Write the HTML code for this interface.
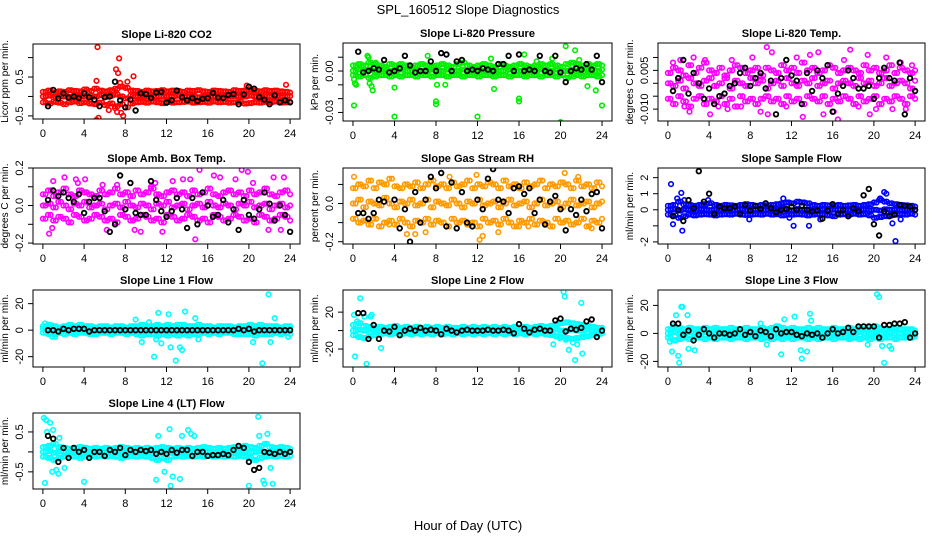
<!DOCTYPE html>
<html><head><meta charset="utf-8"><style>
html,body{margin:0;padding:0;background:#fff;}
svg{display:block;font-family:"Liberation Sans",Arial,sans-serif;}
</style></head><body>
<svg id="chart" width="936" height="540" viewBox="0 0 936 540" xmlns="http://www.w3.org/2000/svg">
<rect width="936" height="540" fill="#fff"/>
<text x="468" y="14" text-anchor="middle" font-size="13">SPL_160512  Slope Diagnostics</text>
<text x="468" y="530" text-anchor="middle" font-size="13">Hour of Day (UTC)</text>
<g id="panels"></g>
</svg>
<script>
const bandTimes=[0,0.5,1,1.5,2,2.5,3,3.5,4,4.5,5,5.5,6,6.5,7,7.5,8,8.5,9,9.5,10,10.5,11,11.5,12,12.5,13,13.5,14,14.5,15,15.5,16,16.5,17,17.5,18,18.5,19,19.5,20,20.5,21,21.5,22,22.5,23,23.5,24];
const blackTimes=[0.5,1,1.5,2,2.5,3,3.5,4,4.5,5,5.5,6,6.5,7,7.5,8,8.5,9,9.5,10,10.5,11,11.5,12,12.5,13,13.5,14,14.5,15,15.5,16,16.5,17,17.5,18,18.5,19,19.5,20,20.5,21,21.5,22,22.5,23,23.5,24];
const xTicks=[0,4,8,12,16,20,24];

// Panel 1: CO2
const co2Hi=[0.12,0.15,0.1,0.13,0.12,0.16,0.14,0.13,0.18,0.14,0.2,0.15,0.13,0.16,0.2,0.25,0.22,0.15,0.14,0.12,0.15,0.13,0.14,0.16,0.13,0.15,0.14,0.12,0.15,0.14,0.16,0.13,0.12,0.15,0.14,0.13,0.12,0.16,0.14,0.15,0.17,0.15,0.13,0.16,0.14,0.15,0.13,0.12,0.1];
const co2Mid=[0,0.02,-0.02,0.01,0,-0.01,0.02,0,0.01,-0.02,0,0.03,-0.01,0.02,0.05,0,-0.05,0.02,0,0.01,-0.01,0.02,0,-0.01,0.01,0,0.02,-0.01,0,0.01,-0.02,0,0.01,0,-0.01,0.02,0,0.01,-0.01,0,0.02,0,-0.01,0.01,0,0.02,-0.01,0,0.01];
const co2Lo=[-0.15,-0.18,-0.14,-0.16,-0.2,-0.15,-0.13,-0.17,-0.15,-0.18,-0.2,-0.16,-0.22,-0.18,-0.25,-0.2,-0.28,-0.18,-0.15,-0.14,-0.16,-0.13,-0.15,-0.17,-0.14,-0.16,-0.15,-0.14,-0.13,-0.16,-0.15,-0.14,-0.16,-0.13,-0.15,-0.14,-0.16,-0.15,-0.14,-0.18,-0.17,-0.15,-0.16,-0.14,-0.15,-0.13,-0.16,-0.15,-0.14];
const co2OutT=[5.3,5.2,5.4,7.4,7.1,7.3,7.5,7.8,7.6,8.8,6.4,5.2,7.0,23.6,19.8,8.2,7.2];
const co2OutV=[1.27,-0.6,-0.55,0.98,0.7,0.6,0.35,-0.5,-0.42,0.52,-0.35,0.4,-0.3,0.3,0.28,0.38,-0.4];
const co2Black=[-0.25,0.17,-0.05,0.08,-0.03,0,-0.04,0.08,-0.02,-0.08,-0.25,-0.02,0,0.38,-0.1,-0.28,-0.08,-0.36,0.08,0.06,-0.04,0.1,0.12,-0.16,-0.1,0.15,-0.02,-0.1,-0.04,-0.12,-0.06,-0.04,0.09,-0.03,-0.04,0.04,0.06,-0.2,0.05,0.25,0.2,-0.02,-0.08,-0.2,0.03,-0.15,-0.1,-0.15];

// Panel 2: Pressure
const prHi=[0.004,0.005,0.004,0.006,0.005,0.004,0.003,0.005,0.004,0.005,0.004,0.003,0.004,0.005,0.004,0.003,0.004,0.005,0.004,0.003,0.005,0.006,0.004,0.003,0.004,0.005,0.004,0.003,0.005,0.004,0.003,0.004,0.005,0.004,0.003,0.004,0.005,0.004,0.005,0.004,0.003,0.005,0.006,0.005,0.004,0.005,0.004,0.005,0.004];
const prMid=[0,0.001,0,0.001,0,0,0.001,0,0,0.001,0,0,0.001,0,0,0.001,0,0,0.001,0,0,0.001,0,0,0.001,0,0,0.001,0,0,0.001,0,0,0.001,0,0,0.001,0,0,0.001,0,0,0.001,0,0,0.001,0,0,0.001];
const prLo=[-0.003,-0.004,-0.003,-0.005,-0.004,-0.003,-0.003,-0.004,-0.003,-0.004,-0.003,-0.003,-0.004,-0.003,-0.003,-0.004,-0.003,-0.003,-0.004,-0.003,-0.003,-0.004,-0.003,-0.003,-0.004,-0.003,-0.003,-0.004,-0.003,-0.003,-0.004,-0.003,-0.003,-0.004,-0.003,-0.003,-0.004,-0.003,-0.003,-0.004,-0.003,-0.005,-0.004,-0.003,-0.004,-0.003,-0.003,-0.004,-0.003];
const prOutT=[0.1,0.2,0.3,0.1,1.5,1.6,1.8,1.9,4,4,7.2,8,8,8.1,8.9,12,13.6,16,16,16.5,20,20.5,21.4,21.8,22.6,23.4,24,19.2,17.7,13.3,1.4,2.2,10.5];
const prOutV=[-0.006,-0.009,-0.01,-0.025,0.01,-0.009,-0.011,-0.014,-0.012,-0.033,0.011,-0.022,-0.024,-0.01,-0.01,-0.033,-0.013,-0.02,-0.022,0.012,-0.037,0.018,0.015,0.008,-0.011,-0.014,-0.025,0.009,0.007,0.009,0.011,0.006,0.008];
const prBlack=[0.014,-0.001,0,0.002,0.001,0.008,-0.001,0,0.002,0.011,0.004,-0.001,0,0,0.007,0,0.013,0.012,0,0.007,0.008,0,0.001,0,0.002,0.001,0,0.005,0.005,0.011,0,0.012,0,0.001,0,0.011,0,-0.001,0.011,-0.001,-0.008,0,0.002,0.001,0.005,0.001,0.011,-0.008];

// Panel 3: Li-820 Temp
const tpHi=[0.004,0.006,0.005,0.003,0.007,0.004,0.006,0.008,0.005,0.004,0.006,0.003,0.005,0.007,0.006,0.004,0.005,0.006,0.003,0.006,0.005,0.004,0.007,0.005,0.006,0.004,0.008,0.005,0.006,0.004,0.005,0.007,0.006,0.004,0.005,0.006,0.005,0.004,0.007,0.005,0.006,0.004,0.005,0.007,0.004,0.006,0.005,0.004,0.005];
const tpMid=[0,-0.001,0.001,-0.002,0.002,0,-0.001,0.001,0.002,-0.001,0,0.002,-0.002,0.001,0,-0.001,0.002,0,0.001,-0.002,0,0.001,-0.001,0.002,0,-0.001,0.001,0,0.002,-0.001,0,0.001,-0.002,0,0.001,0,-0.001,0.002,0,0.001,-0.001,0,0.002,-0.001,0,0.001,0,-0.002,0.001];
const tpLo=[-0.006,-0.008,-0.005,-0.007,-0.009,-0.006,-0.005,-0.008,-0.006,-0.007,-0.005,-0.008,-0.006,-0.009,-0.005,-0.007,-0.006,-0.008,-0.006,-0.005,-0.007,-0.006,-0.008,-0.005,-0.007,-0.006,-0.008,-0.005,-0.006,-0.007,-0.005,-0.008,-0.006,-0.007,-0.005,-0.006,-0.008,-0.005,-0.007,-0.006,-0.005,-0.008,-0.006,-0.007,-0.005,-0.006,-0.008,-0.005,-0.006];
const tpOutT=[0.5,1.2,2.1,2.5,3.6,4.1,4.9,5.8,7.1,8.2,9.6,9.7,10.1,11.5,12.5,13.1,13.8,14.6,15.1,16.1,16.5,17.1,17.7,18.5,19.4,19.6,20.2,21.2,21.8,22.6,23.1,23.7,1.6,6.2,9.0];
const tpOutV=[0.008,0.009,-0.011,0.01,0.009,-0.012,-0.009,-0.01,-0.009,0.01,0.014,-0.012,0.012,-0.009,0.01,-0.013,0.011,0.012,-0.012,-0.011,-0.014,0.009,0.013,-0.009,0.011,-0.012,-0.01,0.01,-0.01,0.008,-0.01,0.007,-0.009,0.009,-0.011];
const tpBlack=[-0.003,0.002,0.009,-0.004,0.004,0,-0.006,-0.002,-0.008,-0.005,-0.004,-0.001,0,0.004,0.006,-0.001,0.002,0.004,-0.002,0.001,-0.012,0.002,0.009,0.003,0.001,-0.008,0.004,-0.003,0.005,0.002,0.007,-0.011,-0.004,-0.001,0.005,0.002,-0.002,-0.002,-0.001,-0.006,0.002,0.006,0.002,0.001,0.008,-0.012,0.002,-0.003];

// Panel 4: Amb. Box Temp
const abHi=[0.06,0.08,0.05,0.07,0.09,0.06,0.05,0.08,0.07,0.06,0.05,0.08,0.06,0.07,0.09,0.06,0.07,0.05,0.08,0.06,0.07,0.09,0.06,0.05,0.07,0.08,0.06,0.07,0.05,0.08,0.06,0.07,0.09,0.06,0.05,0.07,0.08,0.06,0.07,0.05,0.08,0.06,0.07,0.09,0.06,0.05,0.07,0.08,0.06];
const abMid=[0,0.01,-0.01,0.02,0,-0.02,0.01,0,0.02,-0.01,0,0.01,-0.02,0,0.01,-0.01,0.02,0,-0.01,0.01,0,-0.02,0.01,0,0.02,-0.01,0,0.01,-0.02,0,0.01,-0.01,0.02,0,-0.01,0.01,0,-0.02,0.01,0,0.02,-0.01,0,0.01,-0.02,0,0.01,-0.01,0];
const abLo=[-0.07,-0.05,-0.08,-0.06,-0.07,-0.09,-0.05,-0.06,-0.08,-0.07,-0.05,-0.06,-0.08,-0.07,-0.09,-0.05,-0.06,-0.08,-0.07,-0.05,-0.06,-0.08,-0.07,-0.09,-0.05,-0.06,-0.08,-0.07,-0.05,-0.06,-0.08,-0.07,-0.09,-0.05,-0.06,-0.08,-0.07,-0.05,-0.06,-0.08,-0.07,-0.09,-0.05,-0.06,-0.08,-0.07,-0.05,-0.06,-0.08];
const abOutT=[0.6,1.0,2.1,3.2,3.4,4.1,5.8,7.2,8.9,9.5,10.5,11.6,12.6,13.6,14.8,15.2,16.6,17.2,18.7,19.3,19.9,20.4,21.9,22.4,23.1,23.4,0.9,6.2,10.9,14.3];
const abOutV=[-0.15,0.13,0.15,0.14,0.12,0.14,0.11,0.11,-0.13,-0.14,0.1,-0.14,0.13,0.14,-0.18,0.19,0.16,0.15,0.14,0.19,0.18,0.12,-0.13,0.15,-0.13,0.15,-0.12,-0.13,0.12,0.14];
const abBlack=[0.03,0.08,0.05,0.07,0.04,0.02,0.06,-0.04,0.02,0.04,0.04,-0.03,-0.14,-0.1,0.16,-0.02,0.12,-0.04,-0.05,-0.05,0.13,0.03,-0.03,-0.06,-0.03,0.04,-0.02,-0.12,0.04,-0.1,0.07,0,-0.06,-0.05,0.03,-0.09,-0.02,-0.13,0.03,-0.05,-0.07,-0.02,0.07,0.01,-0.08,0,-0.05,-0.14];

// Panel 5: Gas Stream RH
const rhHi=[0.08,0.1,0.09,0.12,0.08,0.11,0.1,0.13,0.09,0.08,0.1,0.09,0.11,0.08,0.1,0.12,0.09,0.1,0.08,0.11,0.09,0.1,0.12,0.08,0.1,0.09,0.11,0.1,0.08,0.12,0.09,0.1,0.08,0.11,0.09,0.1,0.12,0.08,0.1,0.09,0.11,0.1,0.08,0.12,0.09,0.1,0.08,0.11,0.09];
const rhMid=[0,0.02,-0.02,0.01,0,-0.01,0.03,0,-0.02,0.01,0,0.02,-0.01,0,0.02,-0.02,0.01,0,-0.01,0.02,0,-0.02,0.01,0,0.02,-0.01,0,0.01,-0.02,0,0.02,-0.01,0,0.01,-0.02,0,0.02,-0.01,0,0.01,-0.02,0,0.02,-0.01,0,0.01,-0.02,0,0.01];
const rhLo=[-0.08,-0.1,-0.09,-0.11,-0.08,-0.12,-0.1,-0.09,-0.11,-0.08,-0.1,-0.12,-0.09,-0.1,-0.08,-0.11,-0.09,-0.1,-0.12,-0.08,-0.1,-0.09,-0.11,-0.1,-0.12,-0.08,-0.1,-0.09,-0.11,-0.08,-0.1,-0.12,-0.09,-0.1,-0.08,-0.11,-0.09,-0.1,-0.12,-0.08,-0.1,-0.09,-0.11,-0.1,-0.08,-0.12,-0.09,-0.1,-0.08];
const rhOutT=[0.1,2.7,5.2,6.0,7.0,7.3,11.9,12.2,12.5,14.0,14.6,16.9,20.4,21.7,23.0,3.5,9.3,16.0,18.6];
const rhOutV=[0.14,0.22,-0.16,-0.16,-0.15,0.22,0.15,-0.19,-0.17,-0.15,0.2,-0.12,0.16,0.14,-0.13,-0.11,0.14,-0.12,-0.11];
const rhBlack=[-0.05,-0.05,-0.08,-0.05,0.02,0.01,0.21,0.02,-0.13,-0.03,-0.2,0.06,-0.1,0.02,0.14,0.08,0.16,-0.12,0.11,-0.13,0.06,-0.1,-0.12,0.02,-0.03,0.13,0.18,0.02,0.01,-0.05,0.08,0.09,0.05,0.08,-0.05,0.02,-0.11,0.01,0.04,-0.03,-0.14,-0.03,-0.06,0.02,-0.04,0.05,0.06,-0.13];

// Panel 6: Sample Flow
const sfHi=[0.25,0.3,0.5,0.35,0.3,0.25,0.3,0.35,0.4,0.3,0.25,0.3,0.28,0.25,0.3,0.35,0.3,0.25,0.3,0.28,0.3,0.35,0.4,0.45,0.4,0.5,0.45,0.4,0.3,0.25,0.3,0.28,0.25,0.3,0.25,0.28,0.3,0.25,0.3,0.35,0.45,0.6,0.5,0.4,0.35,0.3,0.28,0.25,0.2];
const sfMid=[0,0.05,-0.05,0.02,0,-0.03,0.04,0,-0.02,0.03,0,0.02,-0.03,0,0.04,-0.02,0,0.03,-0.02,0,0.02,0,0.05,0,-0.03,0.04,0,0.02,-0.03,0,0.03,-0.02,0,0.02,0,-0.03,0.04,0,0.02,-0.02,0,-0.05,0.03,0,0.02,-0.02,0,0.03,0];
const sfLo=[-0.3,-0.35,-0.5,-0.4,-0.3,-0.35,-0.3,-0.28,-0.3,-0.35,-0.3,-0.28,-0.3,-0.25,-0.3,-0.32,-0.3,-0.28,-0.3,-0.25,-0.3,-0.28,-0.35,-0.3,-0.3,-0.28,-0.3,-0.35,-0.3,-0.28,-0.3,-0.35,-0.4,-0.3,-0.28,-0.3,-0.25,-0.3,-0.28,-0.35,-0.5,-0.45,-0.4,-0.35,-0.3,-0.28,-0.3,-0.25,-0.3];
const sfOutT=[0.3,0.5,1.3,1.4,3.9,7.9,11.2,11.8,12.2,13.7,14.8,20.6,21.0,21.2,21.8,22.1,22.6,1.6,0.9];
const sfOutV=[1.6,-0.9,1.05,-1.3,0.6,-0.6,0.7,-0.5,-1.0,-1.0,-0.6,0.7,1.1,1.0,-0.85,-1.95,-0.6,0.6,0.7];
const sfBlack=[-0.4,0,-0.7,0.6,0.1,2.4,0.5,1.0,-0.25,0.2,0.1,0.1,0.2,-0.25,0.3,-0.05,0.25,0.05,0.4,0.1,-0.15,0,0.05,0.2,0,0.25,0,-0.1,-0.05,-0.55,-0.05,0.35,-0.25,0,-0.4,0.1,-0.1,0.9,1.3,-0.9,-1.6,-0.1,-0.4,-0.3,0.3,0.25,0.2,0];

// Panel 7: Line 1 Flow
const l1Hi=[3,4,3,2,3,4,3,4,3,3,2,3,3,2,3,3,2,3,3,4,3,3,4,3,4,3,4,4,3,3,4,3,3,2,3,3,3,2,3,3,4,3,4,3,3,3,2,3,3];
const l1Mid=[1,0,0,1,0,0,1,0,0,1,0,0,1,0,0,1,0,0,1,0,0,1,0,0,1,0,0,1,0,0,1,0,0,1,0,0,1,0,0,1,0,0,1,0,0,1,0,0,1];
const l1Lo=[-2,-3,-3,-2,-3,-2,-3,-2,-2,-3,-3,-2,-2,-3,-2,-2,-3,-2,-3,-4,-3,-3,-4,-3,-4,-3,-4,-3,-4,-3,-3,-2,-3,-2,-3,-2,-2,-3,-3,-3,-3,-4,-3,-3,-3,-2,-3,-2,-3];
const l1OutT=[0.2,1.2,9.0,9.6,10.8,11.0,11.2,11.5,12.2,12.4,12.9,13.3,13.5,13.8,14.8,15.1,20.4,21.3,21.9,22.1,22.5,23.8,0.9,10.3];
const l1OutV=[5,-5,8,-9,-20,-7,13,-10,12,-13,-23,-13,-15,14,9,-7,-9,-25,27,-9,9,-5,-5,6];
const l1Black=[0,0,-1,1,0,1,1,1,-1,0,0,0,0,0,0,0,0,0,0,0,0,0,0,0,0,0,0,0,0,0,0,0,0,0,0,0,0,1,0,1,-1,0,0,0,0,0,0,0];

// Panel 8: Line 2 Flow
const l2Hi=[6,8,5,4,3,4,3,4,5,3,4,3,4,3,4,3,4,3,4,3,3,4,3,4,3,4,3,4,3,4,3,4,3,4,3,4,5,4,5,7,8,9,8,7,6,5,4,3,3];
const l2Mid=[0,1,0,1,0,0,1,0,0,1,0,0,1,0,0,1,0,0,1,0,0,1,0,0,1,0,0,1,0,0,1,0,0,1,0,0,1,0,0,1,0,0,1,0,0,1,0,0,1];
const l2Lo=[-5,-7,-8,-6,-5,-4,-3,-4,-3,-4,-3,-4,-3,-4,-3,-4,-3,-4,-3,-4,-3,-4,-3,-4,-3,-4,-3,-4,-3,-4,-3,-4,-3,-4,-3,-4,-3,-4,-5,-6,-7,-8,-9,-8,-7,-6,-5,-4,-3];
const l2OutT=[0.1,0.2,0.7,1.1,1.3,1.8,2.7,20.3,20.4,20.5,20.8,21.2,21.4,21.6,22.0,22.1,19.3,19.9,0.4,1.7];
const l2OutV=[17,-28,35,15,-36,17,-19,42,37,-10,-21,-13,-32,-15,30,-25,-15,-8,10,15];
const l2Black=[19,19,-9,6,-9,0,-1,4,-5,0,2,0,3,0,1,0,-4,2,0,-2,0,1,0,0,0,1,0,0,1,0,-3,7,2,-2,1,2,0,0,11,13,-1,2,1,3,10,12,-7,0];

// Panel 9: Line 3 Flow
const l3Hi=[3,5,4,3,4,3,3,4,3,4,3,3,4,3,3,4,3,3,4,3,4,5,4,3,4,3,3,4,3,4,3,3,4,3,3,4,3,4,3,4,5,4,3,3,4,3,3,3,2];
const l3Mid=[0,1,0,0,1,0,0,1,0,0,1,0,0,1,0,0,1,0,0,1,0,0,1,0,0,1,0,0,1,0,0,1,0,0,1,0,0,1,0,0,1,0,0,1,0,0,1,0,0];
const l3Lo=[-3,-5,-4,-3,-4,-3,-3,-4,-3,-4,-3,-3,-4,-3,-3,-4,-3,-3,-4,-3,-4,-3,-4,-3,-4,-3,-3,-4,-3,-4,-3,-3,-4,-3,-3,-4,-3,-4,-3,-4,-3,-4,-3,-3,-4,-3,-3,-3,-2];
const l3OutT=[0.2,0.4,0.7,0.8,1.0,1.1,1.3,1.4,1.9,2.0,2.6,9.0,9.6,11.0,11.3,12.3,12.9,13.0,13.5,13.8,19.4,20.3,20.5,20.8,21.0,21.5,21.7,10.5,13.9];
const l3OutV=[-6,-13,-5,13,-16,-21,19,19,13,-11,-12,7,-8,-15,10,12,-12,-18,-13,14,-8,28,26,-9,-21,-9,-11,5,9];
const l3Black=[7,7,-1,2,-5,-1,3,0,-3,0,0,-1,0,3,-1,1,-2,2,1,-2,3,0,1,1,-1,-2,0,-1,0,-3,0,3,0,1,4,1,5,5,5,5,-3,6,6,7,7,8,-3,0];

// Panel 10: Line 4 (LT) Flow
const l4Hi=[0.12,0.15,0.2,0.12,0.1,0.08,0.1,0.12,0.1,0.08,0.1,0.08,0.1,0.08,0.1,0.12,0.1,0.08,0.1,0.08,0.1,0.08,0.1,0.12,0.1,0.08,0.1,0.08,0.1,0.08,0.1,0.12,0.1,0.08,0.1,0.08,0.1,0.12,0.1,0.15,0.12,0.1,0.15,0.2,0.12,0.1,0.12,0.1,0.08];
const l4Mid=[0,0.02,-0.02,0.01,0,-0.01,0.02,0,-0.01,0.01,0,0.02,-0.01,0,0.01,-0.02,0,0.01,0,-0.01,0.02,0,-0.01,0.01,0,0.02,-0.01,0,0.01,-0.02,0,0.01,0,-0.01,0.02,0,-0.01,0.01,0,0.02,-0.01,0,0.01,-0.02,0,0.01,0,-0.01,0];
const l4Lo=[-0.12,-0.15,-0.2,-0.15,-0.12,-0.1,-0.12,-0.15,-0.12,-0.1,-0.12,-0.1,-0.12,-0.1,-0.12,-0.15,-0.12,-0.1,-0.12,-0.1,-0.12,-0.15,-0.2,-0.15,-0.2,-0.12,-0.1,-0.12,-0.1,-0.12,-0.1,-0.12,-0.1,-0.12,-0.1,-0.12,-0.1,-0.12,-0.1,-0.12,-0.15,-0.2,-0.15,-0.12,-0.1,-0.12,-0.1,-0.12,-0.1];
const l4OutT=[0.1,0.3,0.4,0.7,0.9,1.0,1.3,1.5,1.6,2.1,4.0,11.0,11.2,11.8,12.3,12.4,12.6,13.3,13.5,14.1,14.4,14.7,20.0,20.9,21.0,21.4,21.5,21.8,22.1,22.3,0.2];
const l4OutV=[0.85,0.8,0.5,0.73,-0.5,0.55,-0.45,-0.55,0.35,-0.4,-0.75,-0.7,0.4,-0.5,0.57,-0.85,-0.62,-0.68,0.4,0.55,0.45,0.4,-0.85,0.88,0.4,-0.72,-0.8,0.45,-0.4,-0.8,-0.78];
const l4Black=[0.4,0.33,-0.25,0.1,-0.15,0.1,0,0.05,-0.15,0,0,-0.1,0.05,0,0.1,-0.08,0.05,0,0.05,0.02,0.05,-0.05,0,-0.05,0.05,-0.02,0.05,0.05,-0.1,0,0,-0.1,-0.08,-0.08,-0.05,-0.08,0.05,0.15,0.1,-0.25,-0.45,-0.4,0,-0.02,-0.05,0,-0.05,0];

const panels=[
 {name:'co2',title:'Slope Li-820 CO2',ylab:'Licor ppm per min.',box:[33,44,300,119],ydom:[-0.58,1.35],yt:[-0.5,0,0.5,1.0],yl:['-0.5','','0.5',''],col:'#ff0000',hi:co2Hi,mid:co2Mid,lo:co2Lo,ot:co2OutT,ov:co2OutV,bk:co2Black},
 {name:'pressure',title:'Slope Li-820 Pressure',ylab:'kPa per min.',box:[343,43,612,121],ydom:[-0.0362,0.0203],yt:[-0.03,-0.02,-0.01,0,0.01],yl:['-0.03','','','0.00',''],col:'#00ee00',hi:prHi,mid:prMid,lo:prLo,ot:prOutT,ov:prOutV,bk:prBlack},
 {name:'li820-temp',title:'Slope Li-820 Temp.',ylab:'degrees C per min.',box:[658,43,925,121],ydom:[-0.0146,0.0156],yt:[-0.01,-0.005,0,0.005,0.01],yl:['-0.010','','','0.005',''],col:'#ff00ff',hi:tpHi,mid:tpMid,lo:tpLo,ot:tpOutT,ov:tpOutV,bk:tpBlack},
 {name:'amb-box-temp',title:'Slope Amb. Box Temp.',ylab:'degrees C per min.',box:[33,168,300,244],ydom:[-0.205,0.2],yt:[-0.2,-0.1,0,0.1,0.2],yl:['-0.2','','0.0','','0.2'],col:'#ff00ff',hi:abHi,mid:abMid,lo:abLo,ot:abOutT,ov:abOutV,bk:abBlack},
 {name:'gas-stream-rh',title:'Slope Gas Stream RH',ylab:'percent per min.',box:[343,168,612,244],ydom:[-0.212,0.186],yt:[-0.2,-0.1,0,0.1],yl:['-0.2','','0.0',''],col:'#ff9a00',hi:rhHi,mid:rhMid,lo:rhLo,ot:rhOutT,ov:rhOutV,bk:rhBlack},
 {name:'sample-flow',title:'Slope Sample Flow',ylab:'ml/min per min.',box:[658,168,925,244],ydom:[-2.13,2.6],yt:[-2,-1,0,1,2],yl:['-2','','0','1','2'],col:'#0000ff',hi:sfHi,mid:sfMid,lo:sfLo,ot:sfOutT,ov:sfOutV,bk:sfBlack},
 {name:'line1-flow',title:'Slope Line 1 Flow',ylab:'ml/min per min.',box:[33,290,300,367],ydom:[-27.8,30.3],yt:[-20,0,20],yl:['-20','0','20'],col:'#00ffff',hi:l1Hi,mid:l1Mid,lo:l1Lo,ot:l1OutT,ov:l1OutV,bk:l1Black},
 {name:'line2-flow',title:'Slope Line 2 Flow',ylab:'ml/min per min.',box:[343,290,612,367],ydom:[-39.5,44],yt:[-20,0,20],yl:['-20','','20'],col:'#00ffff',hi:l2Hi,mid:l2Mid,lo:l2Lo,ot:l2OutT,ov:l2OutV,bk:l2Black},
 {name:'line3-flow',title:'Slope Line 3 Flow',ylab:'ml/min per min.',box:[658,290,925,367],ydom:[-24,31],yt:[-20,0,20],yl:['-20','0','20'],col:'#00ffff',hi:l3Hi,mid:l3Mid,lo:l3Lo,ot:l3OutT,ov:l3OutV,bk:l3Black},
 {name:'line4-flow',title:'Slope Line 4 (LT) Flow',ylab:'ml/min per min.',box:[33,413,300,489],ydom:[-0.93,0.975],yt:[-0.5,0,0.5],yl:['-0.5','','0.5'],col:'#00ffff',hi:l4Hi,mid:l4Mid,lo:l4Lo,ot:l4OutT,ov:l4OutV,bk:l4Black}
];

const NS='http://www.w3.org/2000/svg';
const root=document.getElementById('panels');
function mk(tag,attrs,parent){const e=document.createElementNS(NS,tag);for(const k in attrs)e.setAttribute(k,attrs[k]);parent.appendChild(e);return e;}

panels.forEach(p=>{
  const [x0,y0,x1,y1]=p.box;
  const sx=t=>x0+(t+0.96)/25.92*(x1-x0);
  const sy=v=>y1-(v-p.ydom[0])/(p.ydom[1]-p.ydom[0])*(y1-y0);
  const g=mk('g',{},root);
  
  
  const clip=mk('clipPath',{id:'c-'+p.name},g);
  mk('rect',{x:x0,y:y0,width:x1-x0,height:y1-y0},clip);
  const pts=mk('g',{'clip-path':'url(#c-'+p.name+')',fill:'none'},g);
  
  
  const dot=(t,v,c,w,r)=>{const e=mk('circle',{cx:sx(t).toFixed(1),cy:sy(v).toFixed(1),r:r,stroke:c,'stroke-width':w},pts);
    
    };
  [p.hi,p.mid,p.lo].forEach(arr=>arr.forEach((v,i)=>{if(i<bandTimes.length)dot(bandTimes[i],v,p.col,1.6,2.3);}));
  [p.hi,p.mid,p.lo].forEach(arr=>arr.forEach((v,i)=>{if(i<bandTimes.length-1)dot(bandTimes[i]+0.25,v,p.col,1.6,2.3);}));
  p.ot.forEach((t,i)=>dot(t,p.ov[i],p.col,1.6,2.3));
  p.bk.forEach((v,i)=>{if(i<blackTimes.length)dot(blackTimes[i],v,'#000',1.8,2.3);});
  const box=mk('rect',{x:x0,y:y0,width:x1-x0,height:y1-y0,fill:'none',stroke:'#000','stroke-width':1},g);
  
  
  const ttl=mk('text',{x:(x0+x1)/2,y:y0-6,'text-anchor':'middle','font-size':11,'font-weight':'bold'},g);
  ttl.textContent=p.title;
  
  
  xTicks.forEach(t=>{
    mk('line',{x1:sx(t),x2:sx(t),y1:y1,y2:y1+5,stroke:'#000'},g);
    const tx=mk('text',{x:sx(t),y:y1+18,'text-anchor':'middle','font-size':11},g);
    tx.textContent=t;
    
    
  });
  p.yt.forEach((v,i)=>{
    mk('line',{x1:x0-5,x2:x0,y1:sy(v),y2:sy(v),stroke:'#000'},g);
    if(p.yl[i]){const yy=sy(v);const tx=mk('text',{x:x0-10,y:yy,'text-anchor':'middle','font-size':11,transform:'rotate(-90 '+(x0-10)+' '+yy+')'},g);
      tx.textContent=p.yl[i];
      
      }
  });
  const cy=(y0+y1)/2;
  const yl=mk('text',{x:x0-25,y:cy,'text-anchor':'middle','font-size':10,transform:'rotate(-90 '+(x0-25)+' '+cy+')'},g);
  yl.textContent=p.ylab;
  
  
});
</script>
</body></html>
